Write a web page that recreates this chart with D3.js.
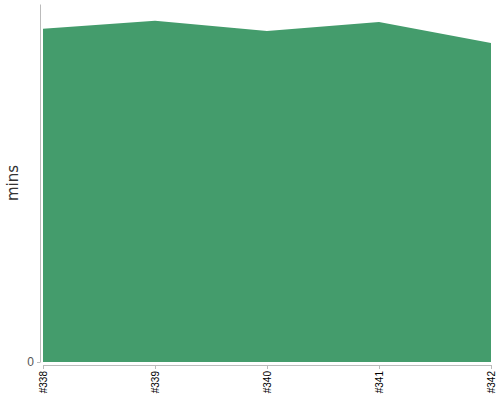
<!DOCTYPE html>
<html>
<head>
<meta charset="utf-8">
<script src="https://cdn.jsdelivr.net/npm/d3@7"></script>
<style>
  body { margin: 0; background: #fff; }
  svg { display: block; font-family: "DejaVu Sans", sans-serif; }
  .axis path, .axis line { stroke: #bbb; }
</style>
</head>
<body>
<div id="chart"></div>
<script>
// chart data
const builds = ['#338', '#339', '#340', '#341', '#342'];
const minutes = [41.9, 42.9, 41.6, 42.75, 40.1];
const yMax = 45;

const WIDTH = 500;
const HEIGHT = 400;
const margin = { top: 4, right: 9, bottom: 38, left: 43 };

const svg = d3.select('#chart')
  .append('svg')
  .attr('width', WIDTH)
  .attr('height', HEIGHT);

const x = d3.scalePoint()
  .domain(builds)
  .range([margin.left, WIDTH - margin.right]);

const y = d3.scaleLinear()
  .domain([0, yMax])
  .range([HEIGHT - margin.bottom, margin.top]);

// area
const area = d3.area()
  .x((d, i) => x(builds[i]))
  .y0(y(0))
  .y1((d) => y(d));

svg.append('path')
  .datum(minutes)
  .attr('fill', '#449c6c')
  .attr('d', area);

// y axis, shifted a little left of the plot
const yAxis = svg.append('g')
  .attr('class', 'axis')
  .attr('transform', `translate(${margin.left - 3},0)`)
  .call(d3.axisLeft(y).tickValues([0]).tickSize(3).tickSizeOuter(0));

yAxis.selectAll('text')
  .attr('fill', '#555')
  .style('font-size', '12px');

// x axis, shifted a little below the plot
const xAxis = svg.append('g')
  .attr('class', 'axis')
  .attr('transform', `translate(0,${HEIGHT - margin.bottom + 3})`)
  .call(d3.axisBottom(x).tickSize(4).tickSizeOuter(0));

xAxis.selectAll('text')
  .attr('fill', '#000')
  .style('font-size', '10px')
  .attr('text-anchor', 'end')
  .attr('transform', 'rotate(-90)')
  .attr('x', -6)
  .attr('y', 0)
  .attr('dy', '0.32em');

// y label
svg.append('text')
  .attr('transform', `translate(18,${(margin.top + HEIGHT - margin.bottom) / 2}) rotate(-90)`)
  .attr('text-anchor', 'middle')
  .attr('fill', '#333')
  .style('font-size', '15px')
  .text('mins');
</script>
</body>
</html>
